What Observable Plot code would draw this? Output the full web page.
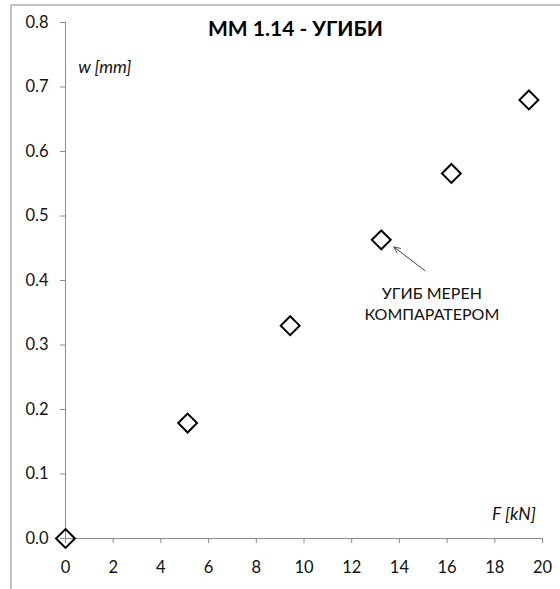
<!DOCTYPE html>
<html>
<head>
<meta charset="utf-8">
<script src="https://cdn.jsdelivr.net/npm/d3@7"></script>
<script src="https://cdn.jsdelivr.net/npm/@observablehq/plot@0.6"></script>
<style>
  html, body { margin: 0; padding: 0; background: #fff; }
  #wrap { position: relative; width: 560px; height: 589px; overflow: hidden; }
  #border { position: absolute; left: 10px; top: 4px; width: 600px; height: 640px;
            border: 2px solid #c4c4c4; box-sizing: border-box; pointer-events: none; }
</style>
</head>
<body>
<div id="wrap"><div id="border"></div></div>
<script>
// Data
const forceKN = [0, 5.12, 9.42, 13.24, 16.18, 19.43];
const deflectionMM = [0, 0.179, 0.330, 0.463, 0.566, 0.680];
const xTicks = [0, 2, 4, 6, 8, 10, 12, 14, 16, 18, 20];
const yTicks = [0, 0.1, 0.2, 0.3, 0.4, 0.5, 0.6, 0.7, 0.8];

// Text annotations (data units)
const titleText = ["MM 1.14 - УГИБИ"];
const titlePos = [{x: 9.64, y: 0.789}];
const yLabelText = ["w [mm]"];
const yLabelPos = [{x: 0.53, y: 0.730}];
const xLabelText = ["F [kN]"];
const xLabelPos = [{x: 19.72, y: 0.038}];
const noteText = ["УГИБ МЕРЕН\nКОМПАРАТЕРОМ"];
const notePos = [{x: 15.36, y: 0.365}];
const arrowFrom = [{x: 15.08, y: 0.415}];
const arrowTo = [{x: 13.77, y: 0.452}];

const points = forceKN.map((f, i) => ({f, w: deflectionMM[i]}));
const font = "Lato, 'Open Sans', sans-serif";

const chart = Plot.plot({
  width: 560,
  height: 589,
  marginLeft: 65,
  marginRight: 18,
  marginTop: 22,
  marginBottom: 51,
  style: {fontFamily: font, fontSize: "16px", color: "#111", background: "transparent", overflow: "visible"},
  x: {domain: [0, 20], ticks: xTicks, tickFormat: d => String(d), label: null},
  y: {domain: [0, 0.8], ticks: yTicks, tickFormat: d3.format(".1f"), label: null},
  marks: [
    Plot.ruleX([0], {stroke: "#8c8c8c", strokeWidth: 1}),
    Plot.ruleY([0], {stroke: "#8c8c8c", strokeWidth: 1}),
    Plot.axisX({ticks: xTicks, tickSize: 5, tickPadding: 18, stroke: "#8c8c8c", fill: "#111", fontSize: 16.5, tickFormat: d => String(d)}),
    Plot.axisY({ticks: yTicks, tickSize: 5, tickPadding: 12, stroke: "#8c8c8c", fill: "#111", fontSize: 16.5, tickFormat: d3.format(".1f")}),
    Plot.dot(points, {x: "f", y: "w", symbol: "diamond2", r: 8.5, stroke: "#000", strokeWidth: 2, fill: "none"}),
    Plot.text(titlePos, {x: "x", y: "y", text: () => titleText[0], fontWeight: "bold", fontSize: 21, fill: "#000", textAnchor: "middle"}),
    Plot.text(yLabelPos, {x: "x", y: "y", text: () => yLabelText[0], fontStyle: "italic", fontSize: 17.5, fill: "#111", textAnchor: "start"}),
    Plot.text(xLabelPos, {x: "x", y: "y", text: () => xLabelText[0], fontStyle: "italic", fontSize: 17.5, fill: "#111", textAnchor: "end"}),
    Plot.text(notePos, {x: "x", y: "y", text: () => noteText[0], fontSize: 16, fill: "#111", textAnchor: "middle", lineHeight: 1.3}),
    Plot.arrow(arrowFrom, {x1: "x", y1: "y", x2: () => arrowTo[0].x, y2: () => arrowTo[0].y, stroke: "#444", strokeWidth: 1, headLength: 10, headAngle: 50})
  ]
});
document.getElementById("wrap").prepend(chart);
</script>
</body>
</html>
